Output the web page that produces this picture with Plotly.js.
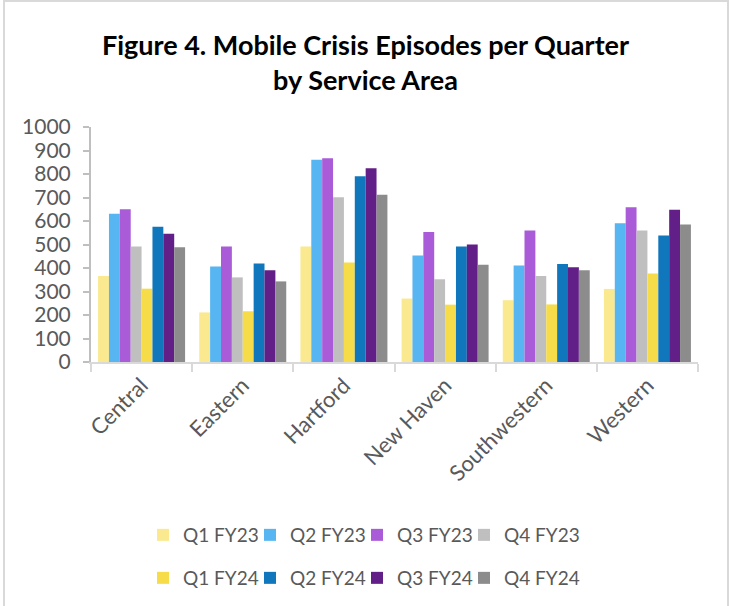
<!DOCTYPE html>
<html>
<head>
<meta charset="utf-8">
<script src="https://cdn.plot.ly/plotly-3.0.1.min.js"></script>
<style>
  html, body { margin: 0; padding: 0; background: #fff; }
  #wrap { position: relative; width: 731px; height: 606px; overflow: hidden; }
  #chart { position: absolute; left: 0; top: 0; width: 731px; height: 606px; }
  #frame { position: absolute; left: 3px; top: 0px; width: 722px; height: 620px;
           border: 2px solid #d9d9d9; border-bottom: none; pointer-events: none; }
</style>
</head>
<body>
<div id="wrap">
  <div id="chart"></div>
  <div id="frame"></div>
</div>
<script>
const areas = ["Central", "Eastern", "Hartford", "New Haven", "Southwestern", "Western"];

const seriesNames = ["Q1 FY23", "Q2 FY23", "Q3 FY23", "Q4 FY23",
                     "Q1 FY24", "Q2 FY24", "Q3 FY24", "Q4 FY24"];

const q1fy23 = [366, 211, 492, 270, 263, 311];
const q2fy23 = [631, 406, 861, 453, 411, 590];
const q3fy23 = [650, 492, 867, 553, 560, 658];
const q4fy23 = [491, 360, 701, 352, 366, 560];
const q1fy24 = [312, 216, 423, 244, 245, 377];
const q2fy24 = [576, 419, 790, 492, 417, 538];
const q3fy24 = [546, 390, 824, 500, 403, 648];
const q4fy24 = [488, 343, 712, 414, 390, 585];

const seriesValues = [q1fy23, q2fy23, q3fy23, q4fy23, q1fy24, q2fy24, q3fy24, q4fy24];
const seriesColors = ["#FAE98F", "#57B5F1", "#A95BD8", "#BFBFBF",
                      "#F7DC4A", "#1077BC", "#631F88", "#8C8C8C"];

const FONT = "Lato, 'Open Sans', sans-serif";
const GREY = "#595959";

const legendIds = seriesNames.map((_, i) => i === 0 ? "legend" : "legend" + (i + 1));

const traces = seriesNames.map((name, i) => ({
  type: "bar",
  name: name,
  x: areas,
  y: seriesValues[i],
  marker: { color: seriesColors[i], line: { width: 0 } },
  legend: legendIds[i],
  hoverinfo: "x+y+name"
}));

const layout = {
  width: 731, height: 606,
  paper_bgcolor: "#ffffff", plot_bgcolor: "#ffffff",
  margin: { l: 91, r: 33, t: 127, b: 244 },
  title: {
    text: "<b>Figure 4. Mobile Crisis Episodes per Quarter<br>by Service Area</b>",
    font: { family: FONT, size: 27, color: "#000000" },
    x: 0.5, xref: "container", xanchor: "center",
    y: 1 - 55 / 606, yref: "container", yanchor: "top"
  },
  barmode: "group",
  bargap: 0.14,
  bargroupgap: 0,
  xaxis: {
    type: "category",
    showline: true, linecolor: "#d9d9d9", linewidth: 2,
    ticks: "outside", tickson: "boundaries", ticklen: 8, tickcolor: "#d9d9d9", tickwidth: 2,
    tickangle: -45,
    tickfont: { family: FONT, size: 22, color: GREY },
    showgrid: false, zeroline: false
  },
  yaxis: {
    range: [0, 1000], dtick: 100, tick0: 0,
    showline: true, linecolor: "#bfbfbf", linewidth: 2,
    ticks: "outside", ticklen: 6, tickcolor: "#bfbfbf", tickwidth: 2,
    ticklabelstandoff: 8,
    tickfont: { family: FONT, size: 21, color: GREY },
    showgrid: false, zeroline: false
  },
  showlegend: true
};

seriesNames.forEach((_, i) => {
  const col = i % 4, row = Math.floor(i / 4);
  layout[legendIds[i]] = {
    orientation: "h",
    xref: "container", yref: "container",
    xanchor: "left", yanchor: "middle",
    x: (143 + 107 * col) / 731,
    y: 1 - (535 + 43 * row) / 606,
    font: { family: FONT, size: 19, color: GREY },
    bgcolor: "rgba(0,0,0,0)"
  };
});

Plotly.newPlot("chart", traces, layout, { displayModeBar: false, staticPlot: true });
</script>
</body>
</html>
